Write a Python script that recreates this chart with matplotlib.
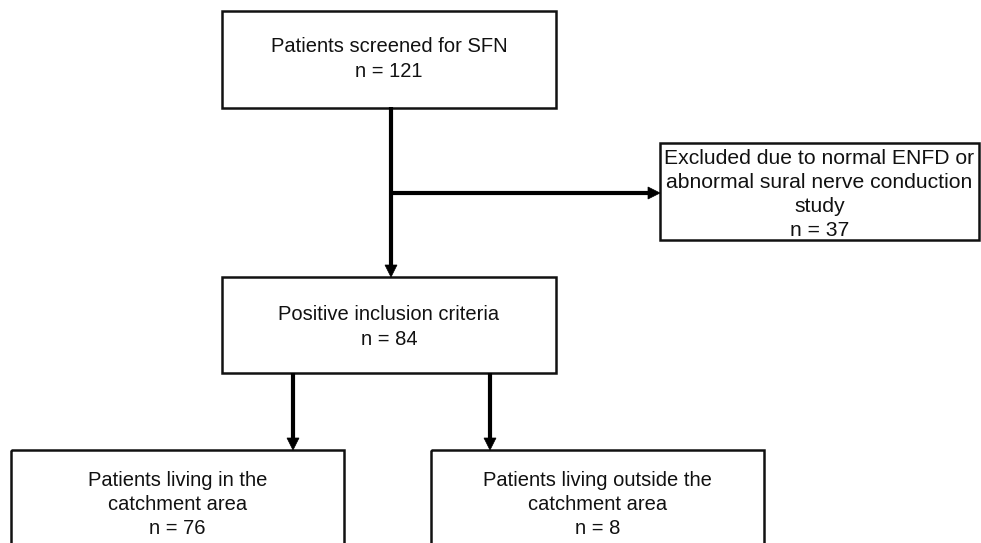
import matplotlib
matplotlib.use("Agg")
import matplotlib.pyplot as plt
from matplotlib.patches import Rectangle, Polygon
import numpy as np

plt.rcParams['font.family'] = ['Liberation Sans', 'DejaVu Sans']

# Flowchart content
box_titles = [
    ["Patients screened for SFN"],
    ["Excluded due to normal ENFD or", "abnormal sural nerve conduction", "study"],
    ["Positive inclusion criteria"],
    ["Patients living in the", "catchment area"],
    ["Patients living outside the", "catchment area"],
]
box_counts = [121, 37, 84, 76, 8]

# Layout (pixel coordinates, y downward)
boxes = [  # x0, y0, x1, y1, first text line y, font size
    (222, 11, 556, 108, 47, 14.5),
    (660, 143, 979, 240, 158, 15.2),
    (222, 277, 556, 373, 315, 14.5),
    (11, 450, 344, 570, 480, 14.5),
    (431, 450, 764, 570, 480, 14.5),
]
line_h = 24.3

W, H = 981, 543
fig = plt.figure(figsize=(W / 100, H / 100), dpi=100)
ax = fig.add_axes([0, 0, 1, 1])
ax.set_xlim(0, W)
ax.set_ylim(H, 0)
ax.axis('off')

for (x0, y0, x1, y1, ty, fs), title, n in zip(boxes, box_titles, box_counts):
    ax.add_patch(Rectangle((x0, y0), x1 - x0, y1 - y0, fill=False,
                           edgecolor='#111111', linewidth=1.8, zorder=2))
    lines = title + [f"n = {n}"]
    cx = (x0 + x1) / 2
    for i, t in enumerate(lines):
        ax.text(cx, ty + i * line_h, t, ha='center', va='center',
                fontsize=fs, color='#111111')


def arrow(x0, y0, x1, y1, head_len=12, head_w=12):
    d = np.array([x1 - x0, y1 - y0], dtype=float)
    L = np.hypot(*d)
    u = d / L
    p = np.array([-u[1], u[0]])
    base = np.array([x1, y1]) - u * head_len
    ax.plot([x0, base[0] + u[0]], [y0, base[1] + u[1]], color='black',
            lw=3.0, solid_capstyle='butt', zorder=3)
    tri = [(x1, y1), tuple(base + p * head_w / 2), tuple(base - p * head_w / 2)]
    ax.add_patch(Polygon(tri, closed=True, facecolor='black',
                         edgecolor='black', lw=0.5, zorder=3))


# main vertical arrow
arrow(391, 107, 391, 277)
# side arrow to excluded
arrow(389.5, 193, 660, 193)
# split arrows
arrow(293, 373, 293, 450)
arrow(490, 373, 490, 450)

fig.savefig('out.png', dpi=100, facecolor='white')
